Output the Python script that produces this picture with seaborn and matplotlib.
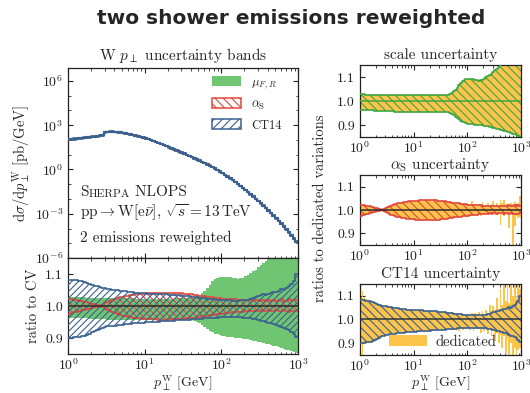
import numpy as np
import matplotlib
matplotlib.use("Agg")
import matplotlib.pyplot as plt
from matplotlib.patches import Patch
from matplotlib.ticker import FixedLocator, NullFormatter, FormatStrFormatter
import seaborn as sns

# ---------------------------------------------------------------- data
# log-spaced pT bins, 30 per decade from 1 to 1000 GeV
pt_edges = np.logspace(0, 3, 91)

# central value, log10 of dsigma/dpT [pb/GeV]
xsec_log10 = [
    2.04, 2.05, 2.07, 2.09, 2.11, 2.13, 2.15, 2.17, 2.19, 2.21,
    2.23, 2.25, 2.28, 2.31, 2.52, 2.55, 2.56, 2.56, 2.55, 2.53,
    2.51, 2.48, 2.45, 2.42, 2.38, 2.34, 2.30, 2.26, 2.21, 2.16,
    2.11, 2.06, 2.00, 1.93, 1.86, 1.79, 1.72, 1.65, 1.58, 1.51,
    1.44, 1.37, 1.30, 1.23, 1.15, 1.08, 1.00, 0.92, 0.84, 0.76,
    0.68, 0.60, 0.52, 0.44, 0.35, 0.26, 0.17, 0.07, -0.03, -0.14,
    -0.25, -0.36, -0.48, -0.60, -0.72, -0.85, -0.98, -1.11, -1.25, -1.39,
    -1.53, -1.68, -1.83, -1.98, -2.13, -2.29, -2.45, -2.61, -2.78, -2.95,
    -3.12, -3.30, -3.48, -3.67, -3.86, -4.06, -4.26, -4.47, -4.68, -4.90]

# scale variation envelope (ratio to CV)
scale_up = [
    1.028, 1.028, 1.028, 1.027, 1.027, 1.027, 1.027, 1.026, 1.026, 1.026,
    1.026, 1.025, 1.025, 1.025, 1.025, 1.025, 1.024, 1.024, 1.024, 1.024,
    1.024, 1.024, 1.024, 1.024, 1.024, 1.024, 1.023, 1.023, 1.023, 1.023,
    1.023, 1.023, 1.023, 1.023, 1.023, 1.023, 1.023, 1.023, 1.023, 1.023,
    1.023, 1.023, 1.024, 1.024, 1.024, 1.024, 1.025, 1.025, 1.026, 1.027,
    1.030, 1.034, 1.040, 1.046, 1.055, 1.066, 1.077, 1.085, 1.089, 1.091,
    1.092, 1.092, 1.091, 1.090, 1.088, 1.086, 1.085, 1.086, 1.089, 1.093,
    1.098, 1.103, 1.108, 1.113, 1.121, 1.128, 1.135, 1.142, 1.149, 1.156,
    1.161, 1.166, 1.171, 1.176, 1.181, 1.186, 1.191, 1.196, 1.201, 1.206]
scale_dn = [
    0.964, 0.964, 0.963, 0.963, 0.962, 0.962, 0.961, 0.961, 0.960, 0.960,
    0.959, 0.959, 0.958, 0.958, 0.958, 0.957, 0.957, 0.957, 0.957, 0.956,
    0.956, 0.956, 0.956, 0.956, 0.956, 0.956, 0.956, 0.956, 0.956, 0.956,
    0.956, 0.956, 0.956, 0.956, 0.956, 0.956, 0.956, 0.956, 0.956, 0.956,
    0.956, 0.956, 0.956, 0.956, 0.956, 0.956, 0.956, 0.955, 0.955, 0.954,
    0.950, 0.946, 0.941, 0.935, 0.929, 0.923, 0.918, 0.914, 0.911, 0.908,
    0.906, 0.905, 0.904, 0.903, 0.902, 0.901, 0.900, 0.899, 0.898, 0.897,
    0.896, 0.894, 0.892, 0.890, 0.888, 0.886, 0.884, 0.882, 0.880, 0.878,
    0.876, 0.874, 0.872, 0.870, 0.867, 0.864, 0.861, 0.858, 0.855, 0.852]

# alpha_S variation (reweighted)
alphas_up = [
    1.023, 1.022, 1.020, 1.019, 1.017, 1.015, 1.013, 1.011, 1.009, 1.007,
    1.005, 1.003, 1.001, 1.003, 1.008, 1.012, 1.016, 1.019, 1.022, 1.025,
    1.027, 1.029, 1.031, 1.032, 1.034, 1.035, 1.036, 1.037, 1.038, 1.039,
    1.039, 1.040, 1.040, 1.041, 1.041, 1.042, 1.042, 1.042, 1.042, 1.042,
    1.041, 1.041, 1.041, 1.040, 1.040, 1.039, 1.038, 1.037, 1.036, 1.035,
    1.034, 1.032, 1.031, 1.030, 1.029, 1.028, 1.027, 1.026, 1.025, 1.024,
    1.023, 1.023, 1.022, 1.022, 1.021, 1.021, 1.020, 1.020, 1.019, 1.019,
    1.018, 1.019, 1.017, 1.018, 1.018, 1.016, 1.019, 1.017, 1.018, 1.016,
    1.019, 1.015, 1.018, 1.021, 1.017, 1.016, 1.022, 1.019, 1.020, 1.018]
alphas_dn = [
    0.976, 0.978, 0.980, 0.982, 0.984, 0.986, 0.988, 0.990, 0.992, 0.994,
    0.996, 0.998, 0.999, 0.997, 0.992, 0.988, 0.984, 0.980, 0.977, 0.974,
    0.971, 0.969, 0.968, 0.966, 0.965, 0.964, 0.963, 0.962, 0.961, 0.960,
    0.960, 0.959, 0.959, 0.958, 0.958, 0.957, 0.957, 0.957, 0.957, 0.957,
    0.958, 0.958, 0.958, 0.959, 0.959, 0.960, 0.961, 0.962, 0.963, 0.964,
    0.965, 0.967, 0.968, 0.969, 0.970, 0.971, 0.972, 0.973, 0.974, 0.975,
    0.976, 0.977, 0.978, 0.979, 0.980, 0.980, 0.981, 0.982, 0.982, 0.983,
    0.984, 0.983, 0.985, 0.984, 0.985, 0.986, 0.984, 0.985, 0.986, 0.985,
    0.984, 0.986, 0.985, 0.983, 0.986, 0.984, 0.982, 0.984, 0.983, 0.985]

# alpha_S variation (dedicated runs)
alphas_ded_up = [
    1.027, 1.025, 1.022, 1.020, 1.018, 1.016, 1.014, 1.012, 1.010, 1.008,
    1.006, 1.004, 1.002, 1.003, 1.007, 1.011, 1.015, 1.018, 1.021, 1.024,
    1.026, 1.028, 1.030, 1.031, 1.033, 1.034, 1.035, 1.036, 1.037, 1.038,
    1.038, 1.039, 1.039, 1.040, 1.040, 1.041, 1.041, 1.041, 1.041, 1.041,
    1.040, 1.040, 1.040, 1.039, 1.039, 1.038, 1.037, 1.036, 1.035, 1.034,
    1.033, 1.031, 1.030, 1.029, 1.028, 1.027, 1.026, 1.025, 1.024, 1.026,
    1.024, 1.026, 1.037, 1.022, 1.025, 1.021, 1.026, 1.020, 1.035, 1.022,
    1.019, 1.031, 1.021, 1.024, 1.037, 1.022, 1.028, 1.020, 1.045, 1.030,
    1.044, 1.024, 1.030, 1.022, 1.028, 1.024, 1.033, 1.020, 1.030, 1.060]
alphas_ded_dn = [
    0.971, 0.974, 0.977, 0.980, 0.982, 0.985, 0.987, 0.989, 0.991, 0.993,
    0.995, 0.997, 0.998, 0.997, 0.993, 0.989, 0.985, 0.981, 0.978, 0.975,
    0.972, 0.970, 0.969, 0.967, 0.966, 0.965, 0.964, 0.963, 0.962, 0.961,
    0.961, 0.960, 0.960, 0.959, 0.959, 0.958, 0.958, 0.958, 0.958, 0.958,
    0.959, 0.959, 0.959, 0.960, 0.960, 0.961, 0.962, 0.963, 0.964, 0.965,
    0.966, 0.968, 0.969, 0.970, 0.971, 0.972, 0.973, 0.974, 0.975, 0.976,
    0.977, 0.978, 0.975, 0.979, 0.981, 0.980, 0.983, 0.976, 0.982, 0.984,
    0.985, 0.980, 0.986, 0.984, 0.978, 0.985, 0.980, 0.987, 0.937, 0.986,
    0.975, 0.982, 0.985, 0.922, 0.984, 0.845, 0.930, 0.976, 0.965, 0.972]

# CT14 PDF variation (reweighted)
ct14_up = [
    1.081, 1.081, 1.081, 1.080, 1.079, 1.077, 1.075, 1.072, 1.069, 1.066,
    1.063, 1.061, 1.059, 1.057, 1.055, 1.054, 1.052, 1.051, 1.050, 1.049,
    1.048, 1.047, 1.046, 1.045, 1.044, 1.043, 1.042, 1.041, 1.041, 1.040,
    1.040, 1.039, 1.039, 1.038, 1.038, 1.037, 1.037, 1.036, 1.036, 1.035,
    1.035, 1.034, 1.034, 1.033, 1.032, 1.032, 1.031, 1.030, 1.029, 1.028,
    1.027, 1.026, 1.025, 1.024, 1.023, 1.022, 1.022, 1.021, 1.020, 1.020,
    1.019, 1.019, 1.018, 1.018, 1.017, 1.017, 1.017, 1.018, 1.018, 1.019,
    1.020, 1.022, 1.024, 1.027, 1.030, 1.033, 1.036, 1.034, 1.039, 1.042,
    1.045, 1.043, 1.048, 1.052, 1.050, 1.057, 1.062, 1.068, 1.078, 1.100]
ct14_dn = [
    0.901, 0.901, 0.902, 0.903, 0.904, 0.905, 0.907, 0.910, 0.914, 0.918,
    0.922, 0.926, 0.929, 0.932, 0.934, 0.936, 0.937, 0.938, 0.939, 0.940,
    0.941, 0.942, 0.943, 0.944, 0.945, 0.946, 0.946, 0.947, 0.948, 0.948,
    0.949, 0.949, 0.950, 0.950, 0.951, 0.951, 0.952, 0.952, 0.953, 0.953,
    0.954, 0.954, 0.955, 0.955, 0.956, 0.956, 0.957, 0.957, 0.958, 0.958,
    0.959, 0.959, 0.960, 0.961, 0.962, 0.962, 0.963, 0.964, 0.964, 0.965,
    0.965, 0.966, 0.966, 0.966, 0.966, 0.966, 0.965, 0.965, 0.964, 0.963,
    0.962, 0.961, 0.960, 0.958, 0.956, 0.954, 0.952, 0.950, 0.948, 0.946,
    0.944, 0.941, 0.938, 0.935, 0.932, 0.929, 0.925, 0.920, 0.913, 0.903]

# CT14 PDF variation (dedicated runs)
ct14_ded_up = [
    1.095, 1.120, 1.090, 1.086, 1.082, 1.080, 1.077, 1.074, 1.070, 1.067,
    1.064, 1.062, 1.060, 1.058, 1.056, 1.055, 1.053, 1.052, 1.051, 1.050,
    1.049, 1.048, 1.047, 1.046, 1.045, 1.044, 1.043, 1.042, 1.042, 1.041,
    1.041, 1.040, 1.040, 1.039, 1.039, 1.038, 1.038, 1.037, 1.037, 1.036,
    1.036, 1.035, 1.035, 1.034, 1.033, 1.033, 1.032, 1.031, 1.030, 1.031,
    1.028, 1.030, 1.026, 1.025, 1.027, 1.023, 1.026, 1.022, 1.025, 1.021,
    1.024, 1.020, 1.028, 1.019, 1.026, 1.020, 1.030, 1.019, 1.035, 1.022,
    1.040, 1.025, 1.060, 1.030, 1.055, 1.040, 1.090, 1.045, 1.130, 1.060,
    1.150, 1.080, 1.170, 1.070, 1.160, 1.100, 1.170, 1.090, 1.160, 1.130]
ct14_ded_dn = [
    0.895, 0.850, 0.896, 0.898, 0.900, 0.902, 0.905, 0.908, 0.911, 0.915,
    0.919, 0.923, 0.927, 0.930, 0.933, 0.935, 0.936, 0.937, 0.938, 0.939,
    0.940, 0.941, 0.942, 0.943, 0.944, 0.945, 0.945, 0.946, 0.947, 0.947,
    0.948, 0.948, 0.949, 0.949, 0.950, 0.950, 0.951, 0.951, 0.952, 0.952,
    0.953, 0.953, 0.954, 0.954, 0.955, 0.955, 0.956, 0.956, 0.957, 0.955,
    0.958, 0.956, 0.959, 0.957, 0.961, 0.950, 0.962, 0.955, 0.963, 0.958,
    0.964, 0.955, 0.965, 0.952, 0.965, 0.958, 0.960, 0.945, 0.962, 0.950,
    0.958, 0.940, 0.955, 0.930, 0.950, 0.910, 0.945, 0.900, 0.935, 0.880,
    0.930, 0.860, 0.920, 0.850, 0.900, 0.840, 0.880, 0.850, 0.870, 0.880]

ratio_ticks = [0.9, 1.0, 1.1]
main_yticks = [1e-6, 1e-3, 1e0, 1e3, 1e6]
main_yminor = [1e-5, 1e-4, 1e-2, 1e-1, 1e1, 1e2, 1e4, 1e5]

# ---------------------------------------------------------------- style
sns.set_style("ticks")
plt.rcParams.update({
    "font.family": ["cmr10", "DejaVu Serif"],
    "mathtext.fontset": "cm",
    "axes.formatter.use_mathtext": True,
    "axes.unicode_minus": False,
    "hatch.linewidth": 0.8,
    "xtick.direction": "in", "ytick.direction": "in",
    "xtick.top": True, "ytick.right": True,
    "xtick.major.size": 3.5, "ytick.major.size": 3.5,
    "xtick.minor.size": 1.8, "ytick.minor.size": 1.8,
    "xtick.major.width": 0.8, "ytick.major.width": 0.8,
    "xtick.minor.width": 0.6, "ytick.minor.width": 0.6,
    "xtick.major.pad": 2.5,
    "xtick.labelsize": 10, "ytick.labelsize": 10,
    "axes.linewidth": 0.9, "axes.edgecolor": "#222222",
    "xtick.color": "#222222", "ytick.color": "#222222",
})

GREEN = "#6fc572"
GREEN_D = "#3da644"
RED = "#e0473d"
BLUE = "#3b6190"
ORANGE = "#fdc44c"
DARK = "#2a2a2a"

xs = 10.0 ** np.asarray(xsec_log10)

# hatch patterns: denser in the wide left ratio panel, slightly looser on the right
HATCH_BACK_L = "\\" * 5
HATCH_FWD_L = "/" * 5
HATCH_BACK_R = "\\" * 4
HATCH_LEG_BACK = "\\" * 4
HATCH_LEG_FWD = "/" * 4

XLABEL = r"$p_\perp^\mathrm{W}$ [GeV]"


def stairs(ax, vals, color, lw=1.2, z=3):
    v = np.asarray(vals, dtype=float)
    sns.lineplot(x=pt_edges, y=np.append(v, v[-1]), drawstyle="steps-post",
                 color=color, lw=lw, ax=ax, zorder=z)


def band(ax, lo, hi, **kw):
    lo = np.asarray(lo, dtype=float)
    hi = np.asarray(hi, dtype=float)
    ax.fill_between(pt_edges, np.append(lo, lo[-1]), np.append(hi, hi[-1]),
                    step="post", **kw)


def hatched(ax, lo, hi, color, hatch, z=2):
    band(ax, lo, hi, facecolor="none", edgecolor=color, hatch=hatch, lw=0, zorder=z)
    stairs(ax, lo, color, z=z + 1)
    stairs(ax, hi, color, z=z + 1)


def style_ratio(ax):
    ax.set_xscale("log")
    ax.set_xlim(1, 1000)
    ax.set_ylim(0.85, 1.15)
    ax.yaxis.set_major_locator(FixedLocator(ratio_ticks))
    ax.yaxis.set_major_formatter(FormatStrFormatter("%.1f"))
    ax.yaxis.set_minor_locator(FixedLocator([]))
    ax.set_xlabel("")
    ax.set_ylabel("")


def pt_label(ax, y_axes):
    # x-axis title placed by its baseline just under the tick labels
    ax.set_xlabel(XLABEL, fontsize=10)
    ax.xaxis.label.set_va("baseline")
    ax.xaxis.set_label_coords(0.5, y_axes)


fig = plt.figure(figsize=(5.3, 3.93), dpi=100)

# ---------------------------------------------------------------- main panel
ax_main = fig.add_axes([0.1283, 0.3435, 0.434, 0.4835])
band(ax_main, xs * np.asarray(scale_dn), xs * np.asarray(scale_up), color=GREEN, lw=0, zorder=1)
hatched(ax_main, xs * np.asarray(alphas_dn), xs * np.asarray(alphas_up), RED, HATCH_BACK_L)
hatched(ax_main, xs * np.asarray(ct14_dn), xs * np.asarray(ct14_up), BLUE, HATCH_FWD_L)
stairs(ax_main, xs, BLUE, lw=1.6, z=5)
ax_main.set_xscale("log")
ax_main.set_yscale("log")
ax_main.set_xlim(1, 1000)
ax_main.set_ylim(1e-6, 7.6e6)
ax_main.yaxis.set_major_locator(FixedLocator(main_yticks))
ax_main.yaxis.set_minor_locator(FixedLocator(main_yminor))
ax_main.yaxis.set_minor_formatter(NullFormatter())
ax_main.tick_params(axis="x", which="both", labelbottom=False)
ax_main.set_xlabel("")
ax_main.set_ylabel(r"$\mathrm{d}\sigma/\mathrm{d}p_\perp^\mathrm{W}$ [pb/GeV]", fontsize=10.5, labelpad=2)
ax_main.set_title(r"W $p_\perp$ uncertainty bands", fontsize=11, pad=6)

legend_handles = [
    Patch(facecolor=GREEN, edgecolor="none", label=r"$\mu_{F,R}$"),
    Patch(facecolor="none", edgecolor=RED, hatch=HATCH_LEG_BACK, lw=1.1, label=r"$\alpha_\mathrm{S}$"),
    Patch(facecolor="none", edgecolor=BLUE, hatch=HATCH_LEG_FWD, lw=1.1, label="CT14"),
]
ax_main.legend(handles=legend_handles, loc="upper left", bbox_to_anchor=(0.626, 0.96),
               frameon=False, fontsize=9, handlelength=2.35, handleheight=0.85,
               handletextpad=0.8, labelspacing=0.6, borderpad=0, borderaxespad=0)

# "Sherpa" in small capitals
t_s = ax_main.text(0.052, 0.347, "S", transform=ax_main.transAxes, fontsize=11, va="center")
t_h = ax_main.annotate("HERPA", xy=(1, 0), xycoords=t_s, fontsize=8.3, va="bottom")
ax_main.annotate(" NLOPS", xy=(1, 0), xycoords=t_h, fontsize=11, va="bottom")
ax_main.text(0.052, 0.237, r"$\mathrm{pp}\rightarrow\mathrm{W}[\mathrm{e}\bar{\nu}]$, $\sqrt{s}=13\,\mathrm{TeV}$",
             transform=ax_main.transAxes, fontsize=11, va="center")
ax_main.text(0.052, 0.105, "2 emissions reweighted", transform=ax_main.transAxes,
             fontsize=11, va="center")

# ---------------------------------------------------------------- ratio panel
ax_rat = fig.add_axes([0.1283, 0.0992, 0.434, 0.2443])
band(ax_rat, scale_dn, scale_up, color=GREEN, lw=0, zorder=1)
hatched(ax_rat, alphas_dn, alphas_up, RED, HATCH_BACK_L)
hatched(ax_rat, ct14_dn, ct14_up, BLUE, HATCH_FWD_L, z=4)
ax_rat.axhline(1.0, color=DARK, lw=1.1, zorder=6)
style_ratio(ax_rat)
ax_rat.set_ylabel("ratio to CV", fontsize=10.5, labelpad=4)
pt_label(ax_rat, -0.345)

# ---------------------------------------------------------------- right panels
ax_s = fig.add_axes([0.679, 0.6514, 0.304, 0.1832])
band(ax_s, scale_dn, scale_up, color=ORANGE, lw=0, zorder=1)
hatched(ax_s, scale_dn, scale_up, GREEN_D, HATCH_BACK_R)
ax_s.axhline(1.0, color=GREEN_D, lw=1.1, zorder=6)
style_ratio(ax_s)
ax_s.set_title("scale uncertainty", fontsize=11, pad=4)

ax_a = fig.add_axes([0.679, 0.3766, 0.304, 0.1781])
band(ax_a, alphas_ded_dn, alphas_ded_up, color=ORANGE, lw=0, zorder=1)
hatched(ax_a, alphas_dn, alphas_up, RED, HATCH_BACK_R)
ax_a.axhline(1.0, color=DARK, lw=1.1, zorder=6)
style_ratio(ax_a)
ax_a.set_title(r"$\alpha_\mathrm{S}$ uncertainty", fontsize=11, pad=4)

ax_c = fig.add_axes([0.679, 0.0967, 0.304, 0.1807])
band(ax_c, ct14_ded_dn, ct14_ded_up, color=ORANGE, lw=0, zorder=1)
hatched(ax_c, ct14_dn, ct14_up, BLUE, HATCH_BACK_R)
ax_c.axhline(1.0, color="#2b3644", lw=1.1, zorder=6)
style_ratio(ax_c)
ax_c.set_title("CT14 uncertainty", fontsize=11, pad=4)
pt_label(ax_c, -0.46)
ax_c.legend(handles=[Patch(facecolor=ORANGE, edgecolor="none", label="dedicated")],
            loc="lower left", bbox_to_anchor=(0.18, 0.09), frameon=False, fontsize=10.5,
            handlelength=2.6, handleheight=0.7, handletextpad=0.6,
            borderpad=0, borderaxespad=0)

fig.text(0.604, 0.47, "ratios to dedicated variations", rotation=90,
         ha="center", va="center", fontsize=10.5)

fig.text(0.549, 0.954, "two shower emissions reweighted", ha="center", va="center",
         family="DejaVu Sans", weight="bold", fontsize=14.5)

fig.savefig("out.png", dpi=100)
